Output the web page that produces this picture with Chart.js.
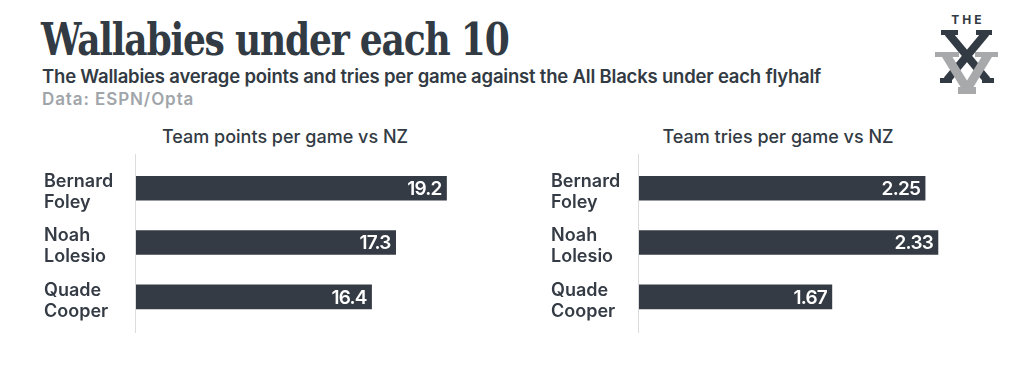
<!DOCTYPE html>
<html>
<head>
<meta charset="utf-8">
<script src="https://cdn.jsdelivr.net/npm/chart.js@4"></script>
<style>
  html, body { margin: 0; padding: 0; background: #fff; }
  body { width: 1024px; height: 376px; position: relative; overflow: hidden; font-family: Inter, "Noto Sans", sans-serif; color: #323a43; }
  .abs { position: absolute; white-space: nowrap; }
  #title { left: 41px; top: 14px; font-family: "DejaVu Serif", serif; font-weight: bold; font-size: 44px; letter-spacing: -1.5px; transform: scaleX(0.82); transform-origin: left top; }
  #sub { left: 42px; top: 65px; font-size: 18.5px; font-weight: 600; letter-spacing: -0.2px; }
  #src { left: 42px; top: 89px; font-size: 17px; font-weight: 600; letter-spacing: 0.9px; color: #a0a5aa; }
  .ctitle { top: 126px; font-size: 18px; font-weight: 500; transform: translateX(-50%); }
  .box { position: absolute; top: 140px; width: 440px; height: 210px; }
</style>
</head>
<body>
<div id="title" class="abs">Wallabies under each 10</div>
<div id="sub" class="abs">The Wallabies average points and tries per game against the All Blacks under each flyhalf</div>
<div id="src" class="abs">Data: ESPN/Opta</div>
<div class="abs ctitle" style="left:285px">Team points per game vs NZ</div>
<div class="abs ctitle" style="left:778px">Team tries per game vs NZ</div>

<svg class="abs" style="left:930px;top:10px" width="75" height="90" viewBox="930 10 75 90">
  <text x="968" y="24" text-anchor="middle" font-family="Inter, sans-serif" font-weight="700" font-size="12" letter-spacing="3" fill="#323a43">THE</text>
  <g fill="#323a43" stroke="#323a43">
    <line x1="948" y1="33" x2="987" y2="80" stroke-width="8"/>
    <line x1="986" y1="33" x2="947" y2="80" stroke-width="8"/>
    <rect x="941" y="30" width="17" height="5" stroke="none"/>
    <rect x="976" y="30" width="16" height="5" stroke="none"/>
    <rect x="940" y="78" width="12" height="5" stroke="none"/>
    <rect x="982" y="78" width="12" height="5" stroke="none"/>
  </g>
  <g fill="#a7a9ab" stroke="#a7a9ab">
    <line x1="946" y1="55" x2="967" y2="89" stroke-width="9"/>
    <line x1="988" y1="55" x2="967" y2="89" stroke-width="9"/>
    <rect x="935" y="52" width="24" height="5" stroke="none"/>
    <rect x="975" y="52" width="23" height="5" stroke="none"/>
    <rect x="958" y="87" width="18" height="7" stroke="none"/>
  </g>
</svg>

<div class="box" style="left:44px"><canvas id="c1"></canvas></div>
<div class="box" style="left:551px"><canvas id="c2"></canvas></div>

<script>
var players = [['Bernard', 'Foley'], ['Noah', 'Lolesio'], ['Quade', 'Cooper']];
var pointsPerGame = [19.2, 17.3, 16.4];
var triesPerGame = [2.25, 2.33, 1.67];
var pointsLabels = ['19.2', '17.3', '16.4'];
var triesLabels = ['2.25', '2.33', '1.67'];

var dark = '#343b44';
var fontFam = 'Inter, "Noto Sans", sans-serif';

// axis line runs a bit past the bars, and values sit inside bar ends
var extras = {
  id: 'extras',
  afterDraw: function (chart) {
    var ctx = chart.ctx, a = chart.chartArea;
    ctx.save();
    ctx.strokeStyle = '#dcdcdc';
    ctx.lineWidth = 1;
    ctx.beginPath();
    ctx.moveTo(a.left - 0.5, a.top - 7);
    ctx.lineTo(a.left - 0.5, a.bottom + 9);
    ctx.stroke();
    var meta = chart.getDatasetMeta(0);
    var labels = chart.options.plugins.extras.labels;
    ctx.fillStyle = '#ffffff';
    ctx.font = '600 19px ' + fontFam;
    ctx.letterSpacing = '-0.8px';
    ctx.textAlign = 'right';
    ctx.textBaseline = 'middle';
    meta.data.forEach(function (bar, i) {
      ctx.fillText(labels[i], bar.x - 5, bar.y + 1);
    });
    ctx.restore();
  }
};

function makeChart(id, values, labels, xmin, xmax, axisWidth) {
  return new Chart(document.getElementById(id), {
    type: 'bar',
    data: {
      labels: players,
      datasets: [{
        data: values,
        backgroundColor: dark,
        barThickness: 24
      }]
    },
    options: {
      indexAxis: 'y',
      responsive: true,
      maintainAspectRatio: false,
      animation: false,
      layout: { padding: { top: 20, bottom: 26, left: 0, right: 0 } },
      plugins: {
        legend: { display: false },
        tooltip: { enabled: false },
        extras: { labels: labels }
      },
      scales: {
        x: { display: false, min: xmin, max: xmax },
        y: {
          grid: { display: false },
          border: { display: false },
          afterFit: function (s) { s.width = axisWidth; },
          ticks: {
            crossAlign: 'far',
            color: dark,
            padding: 0,
            labelOffset: 4,
            font: { family: fontFam, size: 18, weight: '600', lineHeight: 1.17 }
          }
        }
      }
    },
    plugins: [extras]
  });
}

makeChart('c1', pointsPerGame, pointsLabels, 7.6, 20.6, 92);
makeChart('c2', triesPerGame, triesLabels, 0.47, 2.66, 88);
</script>
</body>
</html>
